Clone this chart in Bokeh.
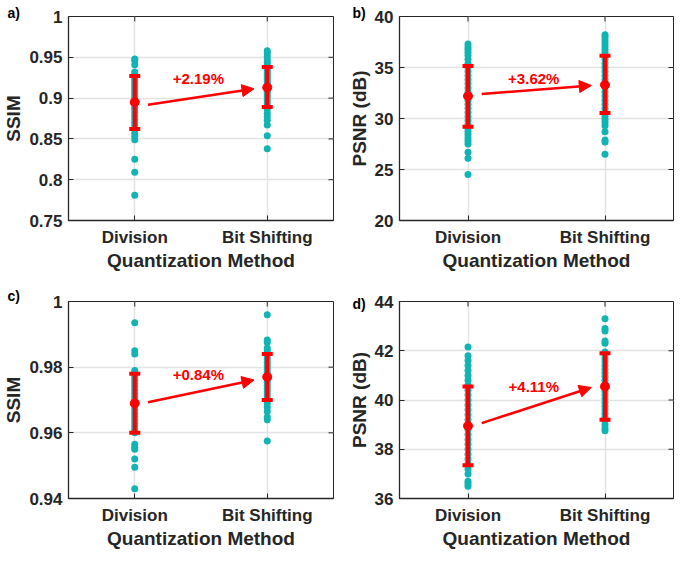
import math
from bokeh.plotting import figure
from bokeh.layouts import gridplot
from bokeh.models import (Range1d, FixedTicker, NumeralTickFormatter,
                          Whisker, TeeHead, Arrow, NormalHead, Label, ColumnDataSource)
from bokeh.embed import file_html
from bokeh.resources import INLINE

# ---------------- data ----------------
categories = ["Division", "Bit Shifting"]
cat_pos = [1, 2]

# a) SSIM
ssim1_div = [0.781, 0.809, 0.825, 0.849, 0.853, 0.857, 0.862, 0.866, 0.870, 0.874, 0.878,
             0.882, 0.886, 0.889, 0.893, 0.896, 0.899, 0.902, 0.905, 0.908, 0.911, 0.914,
             0.917, 0.920, 0.923, 0.926, 0.929, 0.932, 0.941, 0.946, 0.948]
ssim1_bit = [0.838, 0.854, 0.867, 0.873, 0.877, 0.881, 0.886, 0.890, 0.894, 0.898, 0.902,
             0.905, 0.908, 0.911, 0.914, 0.917, 0.920, 0.923, 0.926, 0.929, 0.932, 0.935,
             0.938, 0.941, 0.944, 0.947, 0.951, 0.955, 0.958]
ssim1_mean = [0.895, 0.913]
ssim1_low = [0.862, 0.889]
ssim1_high = [0.927, 0.938]

# b) PSNR
psnr1_div = [24.5, 26.1, 26.7, 27.5, 27.8, 28.1, 28.4, 28.7, 29.0, 29.4, 29.8, 30.2, 30.6,
             31.0, 31.4, 31.8, 32.2, 32.6, 33.0, 33.4, 33.8, 34.2, 34.6, 35.0, 35.4, 35.8,
             36.2, 36.5, 36.8, 37.0, 37.3]
psnr1_bit = [26.5, 27.7, 27.9, 28.7, 29.3, 29.6, 29.9, 30.2, 30.6, 31.0, 31.4, 31.8, 32.2,
             32.6, 33.0, 33.4, 33.8, 34.2, 34.6, 35.0, 35.4, 35.8, 36.2, 36.5, 36.8, 37.1,
             37.4, 37.7, 38.0, 38.2]
psnr1_mean = [32.2, 33.3]
psnr1_low = [29.2, 30.55]
psnr1_high = [35.15, 36.15]

# c) SSIM
ssim2_div = [0.943, 0.9495, 0.952, 0.955, 0.9555, 0.9565, 0.960, 0.961, 0.962, 0.963, 0.964,
             0.965, 0.966, 0.967, 0.968, 0.969, 0.970, 0.971, 0.972, 0.973, 0.974, 0.975,
             0.976, 0.977, 0.978, 0.979, 0.984, 0.985, 0.9935]
ssim2_bit = [0.9575, 0.964, 0.9648, 0.9665, 0.9678, 0.969, 0.9705, 0.9715, 0.9725, 0.9735,
             0.9745, 0.9755, 0.9765, 0.9775, 0.9785, 0.9795, 0.9805, 0.9815, 0.9825, 0.9835,
             0.985, 0.9858, 0.9875, 0.9883, 0.996]
ssim2_mean = [0.969, 0.977]
ssim2_low = [0.960, 0.970]
ssim2_high = [0.978, 0.984]

# d) PSNR
psnr2_div = [36.5, 36.6, 36.7, 37.0, 37.2, 37.4, 37.6, 37.8, 38.0, 38.2, 38.4, 38.6, 38.8,
             39.0, 39.2, 39.4, 39.6, 39.8, 40.0, 40.2, 40.4, 40.6, 40.8, 41.0, 41.2, 41.4,
             41.6, 41.8, 42.15]
psnr2_bit = [38.75, 38.85, 39.0, 39.15, 39.3, 39.45, 39.6, 39.75, 39.9, 40.05, 40.2, 40.35,
             40.5, 40.65, 40.8, 40.95, 41.1, 41.25, 41.4, 41.55, 41.7, 41.85, 41.95, 42.3,
             42.4, 42.8, 42.9, 43.3]
psnr2_mean = [38.95, 40.55]
psnr2_low = [37.35, 39.2]
psnr2_high = [40.55, 41.9]

gains = ["+2.19%", "+3.62%", "+0.84%", "+4.11%"]
panel_letters = ["a)", "b)", "c)", "d)"]
y_labels = ["SSIM", "PSNR (dB)", "SSIM", "PSNR (dB)"]
x_label = "Quantization Method"

ssim1_ticks = [0.75, 0.8, 0.85, 0.9, 0.95, 1.0]
psnr1_ticks = [20, 25, 30, 35, 40]
ssim2_ticks = [0.94, 0.96, 0.98, 1.0]
psnr2_ticks = [36, 38, 40, 42, 44]

# arrow ends (y values)
arrow_y = [(0.8918, 0.9114), (32.4, 33.23), (0.9693, 0.9761), (39.06, 40.51)]
gain_y = [0.9244, 33.96, 0.9779, 40.55]

# ---------------- styling ----------------
TEAL = "#12B3B3"
RED = "#FF0000"
DARK = "#262626"
FONT = "Liberation Sans"

panels = [
    dict(div=ssim1_div, bit=ssim1_bit, mean=ssim1_mean, low=ssim1_low, high=ssim1_high,
         yr=(0.75, 1.0), ticks=ssim1_ticks, fmt="0.[00]",
         w=339, h=275, ml=67, mr=6, mt=16, mb=55, t_off=-61, t_so=-8),
    dict(div=psnr1_div, bit=psnr1_bit, mean=psnr1_mean, low=psnr1_low, high=psnr1_high,
         yr=(20, 40), ticks=psnr1_ticks, fmt="0",
         w=335, h=275, ml=60, mr=1, mt=16, mb=55, t_off=-47, t_so=-8),
    dict(div=ssim2_div, bit=ssim2_bit, mean=ssim2_mean, low=ssim2_low, high=ssim2_high,
         yr=(0.94, 1.0), ticks=ssim2_ticks, fmt="0.[00]",
         w=339, h=278, ml=67, mr=6, mt=26, mb=55, t_off=-61, t_so=-5),
    dict(div=psnr2_div, bit=psnr2_bit, mean=psnr2_mean, low=psnr2_low, high=psnr2_high,
         yr=(36, 44), ticks=psnr2_ticks, fmt="0",
         w=335, h=278, ml=60, mr=1, mt=26, mb=55, t_off=-47, t_so=-21),
]

figs = []
for i, P in enumerate(panels):
    p = figure(width=P["w"], height=P["h"], output_backend="svg", toolbar_location=None,
               x_range=Range1d(0.5, 2.5), y_range=Range1d(*P["yr"]),
               min_border_left=P["ml"], min_border_right=P["mr"],
               min_border_top=P["mt"], min_border_bottom=P["mb"],
               background_fill_color="white", border_fill_color="white")
    p.outline_line_color = DARK
    p.outline_line_width = 1

    p.xaxis.ticker = FixedTicker(ticks=cat_pos)
    p.xaxis.major_label_overrides = {cat_pos[k]: categories[k] for k in range(2)}
    p.yaxis.ticker = FixedTicker(ticks=P["ticks"])
    p.yaxis.formatter = NumeralTickFormatter(format=P["fmt"])
    p.xaxis.axis_label = x_label
    p.yaxis.axis_label = y_labels[i]
    for ax in (p.xaxis, p.yaxis):
        ax.major_label_text_font = FONT
        ax.major_label_text_font_style = "bold"
        ax.major_label_text_font_size = "17px"
        ax.major_label_text_color = DARK
        ax.axis_label_text_font = FONT
        ax.axis_label_text_font_style = "bold"
        ax.axis_label_text_font_size = "19px"
        ax.axis_label_text_color = DARK
        ax.axis_line_color = DARK
        ax.axis_line_width = 1.3
        ax.major_tick_line_color = DARK
        ax.major_tick_in = 5
        ax.major_tick_out = 0
        ax.minor_tick_line_color = None
    p.xaxis.major_label_standoff = 7
    p.xaxis.axis_label_standoff = 0
    p.yaxis.major_label_standoff = 6
    p.yaxis.axis_label_standoff = 2

    p.xgrid.ticker = FixedTicker(ticks=cat_pos)
    p.ygrid.ticker = FixedTicker(ticks=P["ticks"])
    for g in (p.xgrid, p.ygrid):
        g.grid_line_color = "#E3E3E3"
        g.grid_line_width = 1.5

    # inward ticks on the right and top edges of the box (half clipped dashes)
    p.scatter([2.5] * len(P["ticks"]), P["ticks"], marker="dash", size=10,
              line_color=DARK, line_width=1)
    p.scatter(cat_pos, [P["yr"][1]] * 2, marker="dash", size=10, angle=math.pi / 2,
              line_color=DARK, line_width=1)

    # individual points
    p.scatter([cat_pos[0]] * len(P["div"]), P["div"], size=7, fill_color=TEAL,
              line_color=None)
    p.scatter([cat_pos[1]] * len(P["bit"]), P["bit"], size=7, fill_color=TEAL,
              line_color=None)

    # error bars
    src = ColumnDataSource(dict(x=cat_pos, mean=P["mean"], low=P["low"], high=P["high"]))
    wk = Whisker(source=src, base="x", upper="high", lower="low",
                 line_color=RED, line_width=4, level="overlay",
                 upper_head=TeeHead(size=11, line_color=RED, line_width=4),
                 lower_head=TeeHead(size=11, line_color=RED, line_width=4))
    p.add_layout(wk)
    p.scatter("x", "mean", source=src, size=9, fill_color=RED, line_color=RED)

    # arrow + gain text
    ys, ye = arrow_y[i]
    p.add_layout(Arrow(x_start=1.1, y_start=ys, x_end=1.9, y_end=ye,
                       line_color=RED, line_width=2.5, level="overlay",
                       end=NormalHead(size=12, fill_color=RED, line_color=RED)))
    p.add_layout(Label(x=1.48, y=gain_y[i], text=gains[i], text_color=RED,
                       text_font=FONT, text_font_style="bold", text_font_size="15px",
                       text_align="center", text_baseline="middle"))

    # panel letter as a left-shifted title
    p.title.text = panel_letters[i]
    p.title.align = "left"
    p.title.offset = P["t_off"]
    p.title.standoff = P["t_so"]
    p.title.text_font = FONT
    p.title.text_font_style = "bold"
    p.title.text_font_size = "14px"
    p.title.text_color = "black"
    figs.append(p)

grid = gridplot([[figs[0], figs[1]], [figs[2], figs[3]]], toolbar_location=None)
open("out.html", "w").write(file_html(grid, INLINE))
